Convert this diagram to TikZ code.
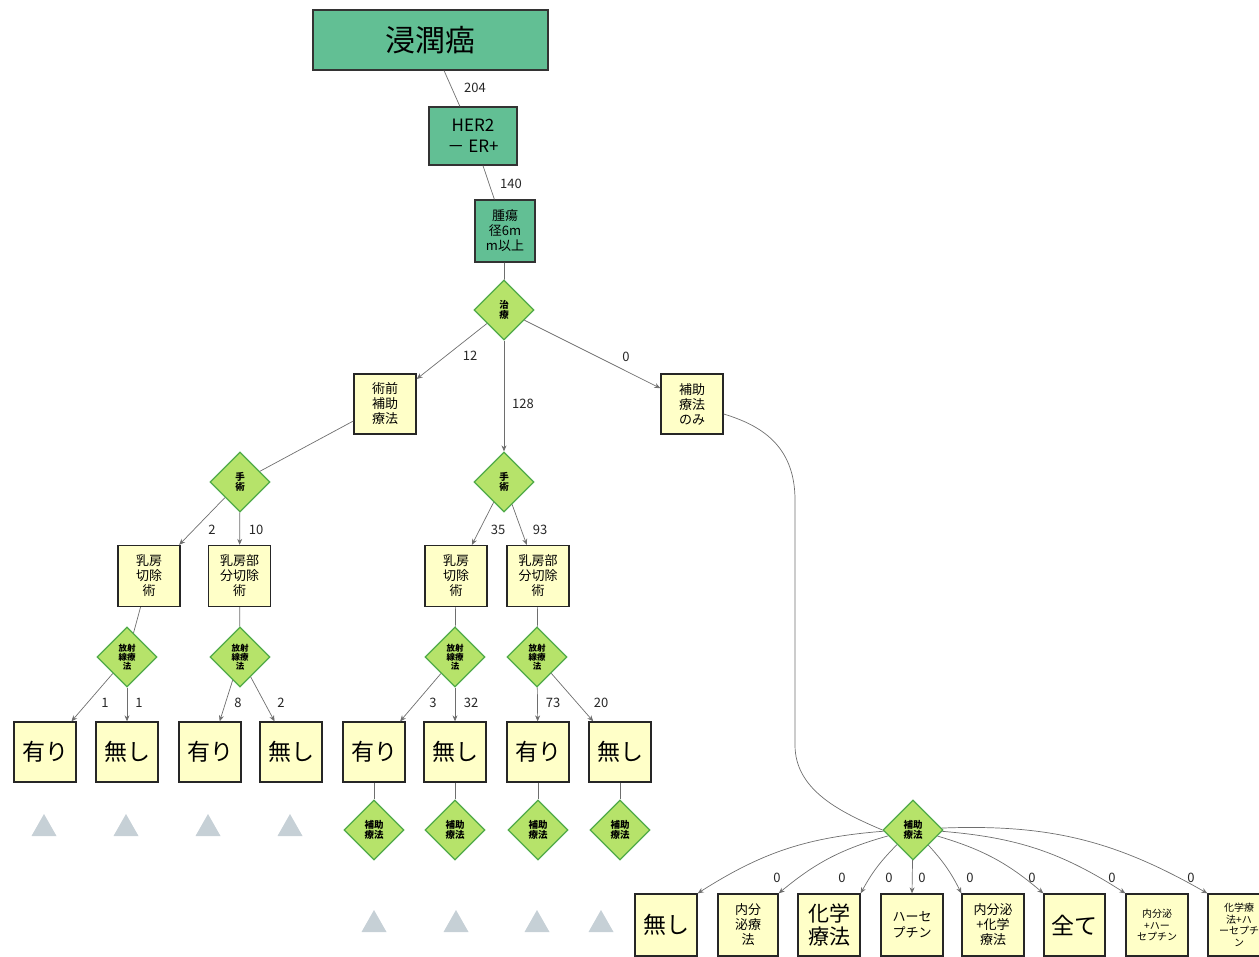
\documentclass[tikz,border=0pt]{standalone}
\usepackage{fontspec}
\newfontfamily\jp{Noto Sans CJK JP}
\usetikzlibrary{shapes.geometric,arrows.meta}
\definecolor{tealfill}{HTML}{62BF94}
\definecolor{paleyellow}{HTML}{FFFFC8}
\definecolor{limefill}{HTML}{B6E36A}
\definecolor{limeedge}{HTML}{4FAA48}
\definecolor{edgegray}{HTML}{6E6E6E}
\definecolor{trigray}{HTML}{C6D0D6}
\tikzset{
  tealbox/.style={rectangle, draw=black!80, line width=1.2pt, fill=tealfill, align=center, inner sep=0pt},
  ybox/.style={rectangle, draw=black!85, line width=1.3pt, fill=paleyellow, align=center, inner sep=0pt,
               minimum width=62pt, minimum height=60pt},
  small/.style={font=\jp\fontsize{13}{15}\selectfont},
  big/.style={font=\jp\fontsize{23}{25}\selectfont},
  dia/.style={diamond, draw=limeedge, line width=1.2pt, fill=limefill, inner sep=0pt,
              minimum width=60pt, minimum height=60pt, align=center},
  dtext/.style={font=\jp\bfseries\fontsize{9.5}{10}\selectfont},
  link/.style={draw=edgegray, line width=0.7pt},
  arr/.style={link, -{Stealth[length=6pt,width=5pt]}},
  num/.style={font=\jp\fontsize{13}{14}\selectfont, text=black!85, inner sep=0pt},
  tri/.style={fill=trigray}
}
\begin{document}
\begin{tikzpicture}[x=1pt,y=-1pt]
\useasboundingbox (0,0) rectangle (1259,957);

% upper chain
\node[tealbox, minimum width=235pt, minimum height=60pt, font=\jp\fontsize{30}{32}\selectfont] (root) at (430.5,40) {浸潤癌};
\node[tealbox, minimum width=88pt, minimum height=58pt, font=\jp\fontsize{17}{21}\selectfont] (her) at (473,136) {HER2\\－ ER+};
\node[tealbox, minimum width=60pt, minimum height=62pt, small] (size) at (505,231) {腫瘍\\径6m\\m以上};
\draw[link] (root) -- (her);
\draw[link] (her) -- (size);
\node[num] at (475,88) {204};
\node[num] at (511,184) {140};

% treatment split
\node[dia, dtext] (treat) at (504,310) {治\\療};
\draw[link] (size) -- (treat);
\node[ybox, small] (neo) at (385,404) {術前\\補助\\療法};
\node[ybox, small] (adjonly) at (692,404) {補助\\療法\\のみ};
\node[dia, dtext] (surgL) at (240,482) {手\\術};
\node[dia, dtext] (surgM) at (504,482) {手\\術};
\draw[arr] (treat) -- (neo);
\draw[arr] (treat) -- (surgM);
\draw[arr] (treat) -- (adjonly);
\draw[link] (neo) -- (surgL);
\node[num] at (470,356) {12};
\node[num] at (523,404) {128};
\node[num] at (626,357) {0};

% surgery types
\node[ybox, minimum height=61pt, small] (mastL) at (149,576) {乳房\\切除\\術};
\node[ybox, minimum height=61pt, small] (partL) at (239.5,576) {乳房部\\分切除\\術};
\node[ybox, minimum height=61pt, small] (mastM) at (456,576) {乳房\\切除\\術};
\node[ybox, minimum height=61pt, small] (partM) at (538,576) {乳房部\\分切除\\術};
\draw[arr] (surgL) -- (mastL);
\draw[arr] (surgL) -- (partL);
\draw[arr] (surgM) -- (mastM);
\draw[arr] (surgM) -- (partM);
\node[num] at (212,530) {2};
\node[num] at (256,530) {10};
\node[num] at (498,530) {35};
\node[num] at (540,530) {93};

% radiation
\foreach \n/\x/\p in {radA/127/mastL, radB/240/partL, radC/455/mastM, radD/537/partM} {
  \node[dia, font=\jp\bfseries\fontsize{8.5}{9}\selectfont] (\n) at (\x,657) {放射\\線療\\法};
  \draw[link] (\p) -- (\n);
}

% yes / no leaves
\foreach \n/\x/\t in {lfA/45/有り, lfB/127/無し, lfC/210/有り, lfD/291/無し, lfE/374/有り, lfF/455/無し, lfG/538/有り, lfH/620/無し} {
  \node[ybox, big] (\n) at (\x,752) {\t};
}
\draw[arr] (radA) -- (lfA);
\draw[arr] (radA) -- (lfB);
\draw[arr] (radB) -- (lfC);
\draw[arr] (radB) -- (lfD);
\draw[arr] (radC) -- (lfE);
\draw[arr] (radC) -- (lfF);
\draw[arr] (radD) -- (lfG);
\draw[arr] (radD) -- (lfH);
\node[num] at (105,703) {1};
\node[num] at (139,703) {1};
\node[num] at (238,703) {8};
\node[num] at (281,703) {2};
\node[num] at (433,703) {3};
\node[num] at (471,703) {32};
\node[num] at (553,703) {73};
\node[num] at (601,703) {20};

% collapsed subtrees
\foreach \x in {44,126,208,290} {
  \fill[tri] (\x-12.5,836) -- (\x+12.5,836) -- (\x,814) -- cycle;
}
\foreach \n/\x/\p in {adjE/374/lfE, adjF/455/lfF, adjG/538/lfG, adjH/620/lfH} {
  \node[dia, dtext] (\n) at (\x,830) {補助\\療法};
  \draw[link] (\p) -- (\n);
}
\foreach \x in {374,456,537,601} {
  \fill[tri] (\x-12.5,932) -- (\x+12.5,932) -- (\x,910) -- cycle;
}

% adjuvant-only branch
\node[dia, dtext] (adj) at (913,830) {補助\\療法};
\coordinate (turnA) at (795,500);
\coordinate (turnB) at (795,745);
\path (adjonly.east) ++(0,10) coordinate (adjout);
\draw[link] (adjout) .. controls (760,425) and (795,445) .. (turnA) -- (turnB)
  .. controls (795,790) and (840,812) .. (adj.west);

\node[ybox, minimum height=62pt, big] (oA) at (666,925) {無し};
\node[ybox, minimum width=60pt, minimum height=62pt, small] (oB) at (748,925) {内分\\泌療\\法};
\node[ybox, minimum height=62pt, font=\jp\fontsize{21}{23}\selectfont] (oC) at (829,925) {化学\\療法};
\node[ybox, minimum height=62pt, font=\jp\fontsize{13}{16}\selectfont] (oD) at (912,925) {ハーセ\\プチン};
\node[ybox, minimum height=62pt, small] (oE) at (993,925) {内分泌\\+化学\\療法};
\node[ybox, minimum width=61pt, minimum height=62pt, big] (oF) at (1074.5,925) {全て};
\node[ybox, minimum height=62pt, font=\jp\fontsize{10}{12}\selectfont] (oG) at (1157,925) {内分泌\\+ハー\\セプチン};
\node[ybox, minimum height=62pt, font=\jp\fontsize{10}{11.5}\selectfont] (oH) at (1239,925) {化学療\\法+ハ\\ーセプチ\\ン};

\draw[arr] (adj) to[bend right=14] (oA.north east);
\draw[arr] (adj) to[bend right=12] (oB.north east);
\draw[arr] (adj) to[bend right=8] (oC.north east);
\draw[arr] (adj) -- (oD.north);
\draw[arr] (adj) to[bend left=8] (oE.north west);
\draw[arr] (adj) to[bend left=12] (oF.north west);
\draw[arr] (adj) to[bend left=14] (oG.north west);
\draw[arr] (adj) to[bend left=16] (oH.north west);
\foreach \x in {777,842,889,922,970,1032,1112,1191} {
  \node[num] at (\x,878) {0};
}
\end{tikzpicture}
\end{document}
